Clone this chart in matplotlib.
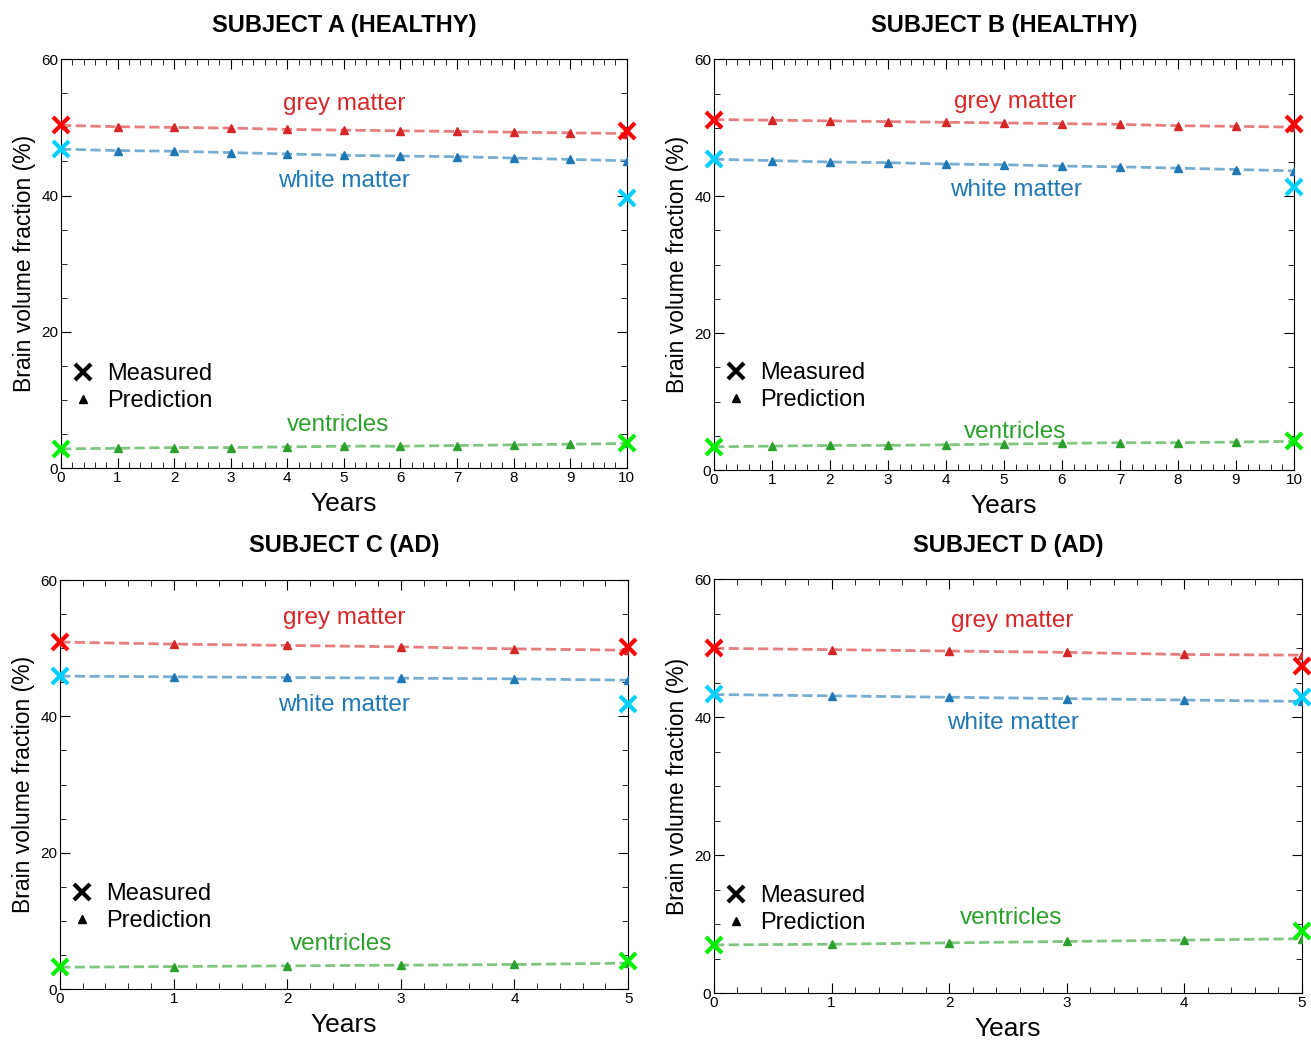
import matplotlib.pyplot as plt
import numpy as np
from matplotlib.lines import Line2D
from matplotlib.ticker import MultipleLocator

plt.rcParams['font.family'] = ['Liberation Sans', 'DejaVu Sans']

titles = ["SUBJECT A (HEALTHY)", "SUBJECT B (HEALTHY)", "SUBJECT C (AD)", "SUBJECT D (AD)"]

years_long = list(range(11))
years_short = list(range(6))

# predictions (triangles + dashed line)
grey_pred = [
    [50.3, 50.1, 50.0, 49.9, 49.7, 49.6, 49.5, 49.4, 49.3, 49.2, 49.1],
    [51.2, 51.1, 51.0, 50.9, 50.8, 50.7, 50.6, 50.5, 50.3, 50.2, 50.1],
    [50.9, 50.6, 50.4, 50.2, 49.9, 49.7],
    [50.0, 49.8, 49.6, 49.4, 49.1, 49.0],
]
white_pred = [
    [46.8, 46.6, 46.5, 46.3, 46.1, 45.9, 45.8, 45.7, 45.5, 45.3, 45.1],
    [45.4, 45.2, 45.0, 44.9, 44.7, 44.6, 44.4, 44.3, 44.1, 43.9, 43.7],
    [45.9, 45.8, 45.7, 45.6, 45.5, 45.3],
    [43.3, 43.1, 42.9, 42.7, 42.5, 42.3],
]
vent_pred = [
    [2.8, 2.9, 3.0, 3.0, 3.1, 3.2, 3.2, 3.3, 3.4, 3.5, 3.6],
    [3.4, 3.5, 3.6, 3.6, 3.7, 3.8, 3.9, 4.0, 4.0, 4.1, 4.2],
    [3.2, 3.3, 3.4, 3.5, 3.6, 3.8],
    [7.0, 7.1, 7.3, 7.5, 7.7, 7.9],
]

# measured (first and last visit)
grey_meas = [[50.3, 49.4], [51.2, 50.5], [50.9, 50.1], [50.0, 47.4]]
white_meas = [[46.8, 39.7], [45.5, 41.3], [45.9, 41.8], [43.3, 42.9]]
vent_meas = [[2.8, 3.7], [3.4, 4.2], [3.2, 4.1], [7.0, 9.0]]

# label anchors (x, y) for grey, white, ventricles
label_pos = [
    [(5.0, 53.4), (5.0, 42.2), (4.9, 6.3)],
    [(5.2, 53.7), (5.2, 40.9), (5.2, 5.5)],
    [(2.5, 54.4), (2.5, 41.6), (2.47, 6.6)],
    [(2.54, 53.9), (2.54, 39.1), (2.53, 10.9)],
]

boxes = [
    [0.0465, 0.550, 0.4315, 0.393],
    [0.5446, 0.548, 0.4424, 0.395],
    [0.0458, 0.049, 0.4333, 0.3933],
    [0.5446, 0.045, 0.4484, 0.398],
]
legend_y = [0.197, 0.203, 0.199, 0.202]

fig = plt.figure(figsize=(13.11, 10.4), dpi=100)

for i in range(4):
    ax = fig.add_axes(boxes[i])
    yrs = years_long if i < 2 else years_short
    xend = yrs[-1]
    series = [
        (grey_pred[i], grey_meas[i], '#d62728', '#ff0000', 'grey matter'),
        (white_pred[i], white_meas[i], '#1f77b4', '#00d0ff', 'white matter'),
        (vent_pred[i], vent_meas[i], '#2ca02c', '#00ee00', 'ventricles'),
    ]
    for k, (pred, meas, c, mc, name) in enumerate(series):
        ax.plot(yrs, pred, '--', color=c, alpha=0.6, lw=2, zorder=2)
        ax.plot(yrs, pred, '^', color=c, ms=6, zorder=3)
        ax.plot([0, xend], meas, 'x', color=mc, ms=11, mew=3, zorder=4, clip_on=False)
        lx, ly = label_pos[i][k]
        ax.text(lx, ly, name, color=c, fontsize=17.5, ha='center', va='center')

    ax.set_xlim(0, xend)
    ax.set_ylim(0, 60)
    ax.set_yticks([0, 20, 40, 60])
    ax.set_xticks(yrs)
    ax.yaxis.set_minor_locator(MultipleLocator(5))
    ax.xaxis.set_minor_locator(MultipleLocator(0.2))
    ax.tick_params(which='both', direction='in', top=True, right=True, labelsize=11, pad=2)
    ax.tick_params(which='major', length=7)
    ax.tick_params(which='minor', length=4)
    ax.set_xlabel("Years", fontsize=19, labelpad=5)
    ax.set_ylabel("Brain volume fraction (%)", fontsize=16.5, labelpad=4)
    ax.set_title(titles[i], fontsize=17, fontweight='bold', pad=20)

    handles = [
        Line2D([], [], ls='none', marker='x', color='black', ms=11, mew=3),
        Line2D([], [], ls='none', marker='^', color='black', ms=6),
    ]
    ax.legend(handles, ["Measured", "Prediction"], loc='center left',
              bbox_to_anchor=(0.006, legend_y[i]), frameon=False, fontsize=17,
              handletextpad=0.4, labelspacing=0.2, handlelength=1.2,
              borderaxespad=0.0, borderpad=0.2)

fig.savefig("out.png", dpi=100)
